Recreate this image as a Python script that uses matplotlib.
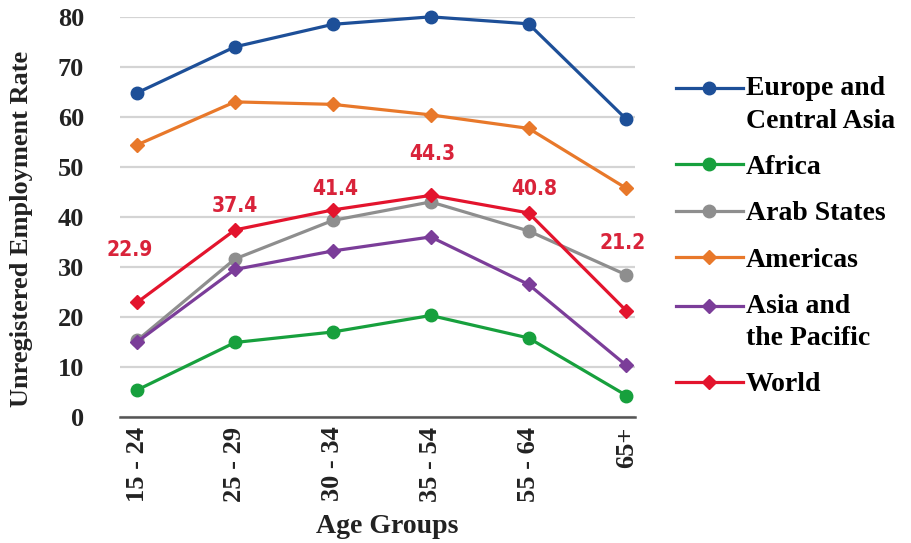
"""Unregistered employment rate by age group, per world region."""

import matplotlib.pyplot as plt
from matplotlib.legend_handler import HandlerLine2D

age_groups = ["15 - 24", "25 - 29", "30 - 34", "35 - 54", "55 - 64", "65+"]

europe_central_asia = [64.8, 74.0, 78.5, 80.0, 78.6, 59.5]
africa = [5.4, 14.9, 17.0, 20.3, 15.8, 4.3]
arab_states = [15.3, 31.6, 39.3, 43.0, 37.2, 28.4]
americas = [54.4, 63.0, 62.5, 60.4, 57.7, 45.7]
asia_pacific = [15.0, 29.5, 33.2, 36.0, 26.5, 10.3]
world = [22.9, 37.4, 41.4, 44.3, 40.8, 21.2]

# where each World value label sits relative to its marker, in points
label_dx = [-5, 0, 2, 1, 4, -3]
label_dy = [38, 17.5, 15, 29.5, 17.5, 49]

SERIF = ["Liberation Serif", "DejaVu Serif"]


class FirstLineHandler(HandlerLine2D):
    """Legend handler that lines the sample up with the first text line."""

    def __init__(self, raise_by: float, **kwargs):
        super().__init__(**kwargs)
        self.raise_by = raise_by

    def create_artists(self, legend, orig_handle, xdescent, ydescent,
                       width, height, fontsize, trans):
        return super().create_artists(
            legend, orig_handle, xdescent, ydescent - 2 * self.raise_by,
            width, height, fontsize, trans,
        )


def main() -> None:
    fig = plt.figure(figsize=(9.12, 5.43), dpi=100)
    ax = fig.add_axes([0.1316, 0.232, 0.565, 0.737])

    x = list(range(len(age_groups)))
    series = [
        ("Europe and\nCentral Asia", europe_central_asia, "#1d4f98", "o"),
        ("Africa", africa, "#17a03d", "o"),
        ("Arab States", arab_states, "#8e8e8e", "o"),
        ("Americas", americas, "#e8782a", "D"),
        ("Asia and\nthe Pacific", asia_pacific, "#7b3d99", "D"),
        ("World", world, "#e3142d", "D"),
    ]
    handler_map = {}
    for name, values, color, marker in series:
        (line,) = ax.plot(
            x, values, color=color, marker=marker, linewidth=2.3,
            markersize=9 if marker == "o" else 7, label=name, clip_on=False,
        )
        if "\n" in name:
            handler_map[line] = FirstLineHandler(12)

    for xi, value, dx, dy in zip(x, world, label_dx, label_dy):
        ax.annotate(
            f"{value:.1f}", (xi, value), xytext=(dx, dy),
            textcoords="offset points", ha="center", va="center",
            color="#d9233a", fontsize=15, fontweight="bold",
            family="DejaVu Sans", fontstretch="condensed",
        )

    ax.set_xlim(-0.174, 5.09)
    ax.set_ylim(0, 80)
    ax.set_yticks(range(0, 81, 10))
    ax.set_xticks(x)
    ax.set_xticklabels(age_groups, rotation=90)
    ax.grid(axis="y", color="#d4d4d4", linewidth=1.6)
    ax.set_axisbelow(True)
    for side in ("left", "right", "top"):
        ax.spines[side].set_visible(False)
    ax.spines["bottom"].set_color("#555555")
    ax.spines["bottom"].set_linewidth(1.8)
    ax.tick_params(axis="y", length=0, pad=26)
    ax.tick_params(axis="x", length=0, pad=7)

    for label in ax.get_xticklabels() + ax.get_yticklabels():
        label.set_family(SERIF)
        label.set_fontweight("bold")
        label.set_fontsize(19)
        label.set_color("#222222")

    ax.set_xlabel("Age Groups", family=SERIF, fontweight="bold",
                  fontsize=20, color="#222222", labelpad=9)
    ax.xaxis.label.set_x(0.518)
    ax.set_ylabel("Unregistered Employment Rate", family=SERIF,
                  fontweight="bold", fontsize=19, color="#222222")
    ax.yaxis.set_label_coords(-0.168, 0.47)

    legend = ax.legend(
        loc="upper left", bbox_to_anchor=(0.726, 0.885),
        bbox_transform=fig.transFigure, frameon=False, borderpad=0,
        handlelength=2.4, handletextpad=0.12, labelspacing=0.75,
        handler_map=handler_map,
        prop={"family": SERIF, "weight": "bold", "size": 20},
    )
    for text in legend.get_texts():
        text.set_linespacing(1.4)

    fig.savefig("out.png", dpi=100)
    plt.close(fig)


if __name__ == "__main__":
    main()
